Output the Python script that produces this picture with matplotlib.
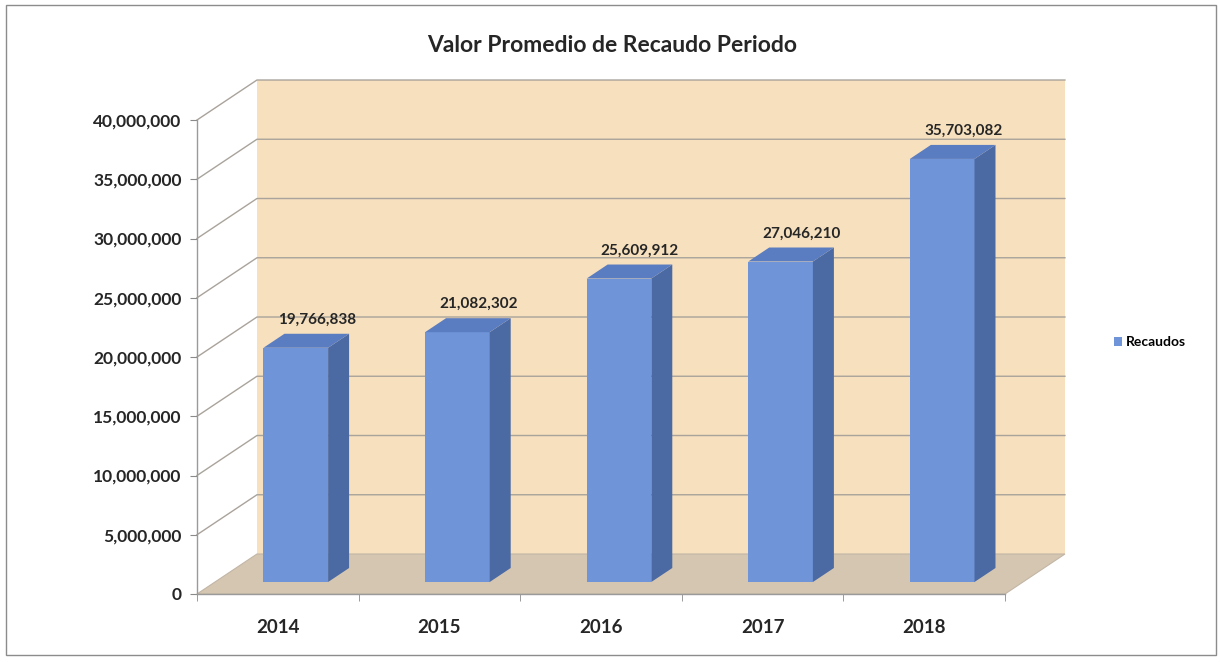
import matplotlib.pyplot as plt
from matplotlib.patches import Polygon, Rectangle
from matplotlib.ticker import FuncFormatter

plt.rcParams['font.family'] = ['Lato', 'DejaVu Sans']

# Data
years = ['2014', '2015', '2016', '2017', '2018']
recaudos = [19766838, 21082302, 25609912, 27046210, 35703082]
y_ticks = [0, 5000000, 10000000, 15000000, 20000000, 25000000,
           30000000, 35000000, 40000000]

# pseudo-3D settings (depth offset in data units)
DX = 0.371        # depth shift in category units
DY = 3.375e6      # depth shift in value units
z0, z1 = 0.30, 0.65   # bar front / back depth
bar_w = 0.40

wall_col = '#f6e0be'
floor_col = '#d5c6b1'
grid_col = '#a9a39b'
front_col = '#6f94d8'
side_col = '#4b69a3'
top_col = '#5a7cc0'
txt_col = '#262626'

fig = plt.figure(figsize=(12.2, 6.62), dpi=100)
ax = fig.add_axes([197 / 1220, 68 / 662, 808 / 1220, 474 / 662])
ax.set_xlim(0, 5)
ax.set_ylim(0, 40e6)
ax.patch.set_visible(False)

n = len(years)
ymax = y_ticks[-1]

# back wall
ax.add_patch(Rectangle((DX, DY), n, ymax, facecolor=wall_col,
                       edgecolor='none', zorder=0, clip_on=False))

# gridlines (left wall diagonal + back wall horizontal)
for t in y_ticks[1:]:
    ax.plot([0, DX, n + DX], [t, t + DY, t + DY], color=grid_col,
            lw=1.0, zorder=1, clip_on=False)

# floor
ax.add_patch(Polygon([(0, 0), (n, 0), (n + DX, DY), (DX, DY)],
                     closed=True, facecolor=floor_col, edgecolor='#c2b6a6',
                     lw=0.8, zorder=2, clip_on=False))

# bars
xs = [i + 0.5 + z0 * DX for i in range(n)]
bars = ax.bar(xs, recaudos, width=bar_w, bottom=z0 * DY, color=front_col,
              zorder=3, label='Recaudos', clip_on=False)
dx = (z1 - z0) * DX
dy = (z1 - z0) * DY
for x, v in zip(xs, recaudos):
    l, r = x - bar_w / 2, x + bar_w / 2
    b, t = z0 * DY, z0 * DY + v
    ax.add_patch(Polygon([(r, b), (r + dx, b + dy), (r + dx, t + dy), (r, t)],
                         closed=True, facecolor=side_col, edgecolor='none',
                         zorder=3, clip_on=False))
    ax.add_patch(Polygon([(l, t), (r, t), (r + dx, t + dy), (l + dx, t + dy)],
                         closed=True, facecolor=top_col, edgecolor='none',
                         zorder=3, clip_on=False))
    ax.annotate(f'{v:,.0f}', (x + dx, t + dy), xytext=(0, 10),
                textcoords='offset points', ha='center', va='center',
                fontsize=11, fontweight='bold', color=txt_col, zorder=5)

# axes styling
ax.set_yticks(y_ticks)
ax.yaxis.set_major_formatter(FuncFormatter(lambda v, p: f'{v:,.0f}'))
ax.set_xticks([i + 0.5 for i in range(n)])
ax.set_xticklabels(years)
ax.set_xticks(range(n + 1), minor=True)
ax.tick_params(axis='x', which='major', length=0, pad=18, labelsize=13.5,
               labelcolor=txt_col)
ax.tick_params(axis='x', which='minor', length=5, color='#8a8a8a')
ax.tick_params(axis='y', length=5, color='#8a8a8a', pad=6, labelsize=12.5,
               labelcolor=txt_col)
for lab in ax.get_xticklabels() + ax.get_yticklabels():
    lab.set_fontweight('bold')
for s in ['top', 'right']:
    ax.spines[s].set_visible(False)
for s in ['left', 'bottom']:
    ax.spines[s].set_color('#9a9a9a')
    ax.spines[s].set_linewidth(1.0)

fig.text(612 / 1220, 1 - 45 / 662, 'Valor Promedio de Recaudo Periodo',
         ha='center', va='center', fontsize=16.5, fontweight='bold',
         color=txt_col)

fig.legend(handles=[bars], loc='center', bbox_to_anchor=(1150 / 1220, 1 - 342 / 662),
           frameon=False, handlelength=0.6, handleheight=0.6,
           handletextpad=0.3, prop={'weight': 'bold', 'size': 10})

# outer chart border
fig.patches.append(Rectangle((6 / 1220, 7 / 662), 1210 / 1220, 650 / 662,
                             transform=fig.transFigure, fill=False,
                             edgecolor='#8c8c8c', lw=1.0))

fig.savefig('out.png', dpi=100)
